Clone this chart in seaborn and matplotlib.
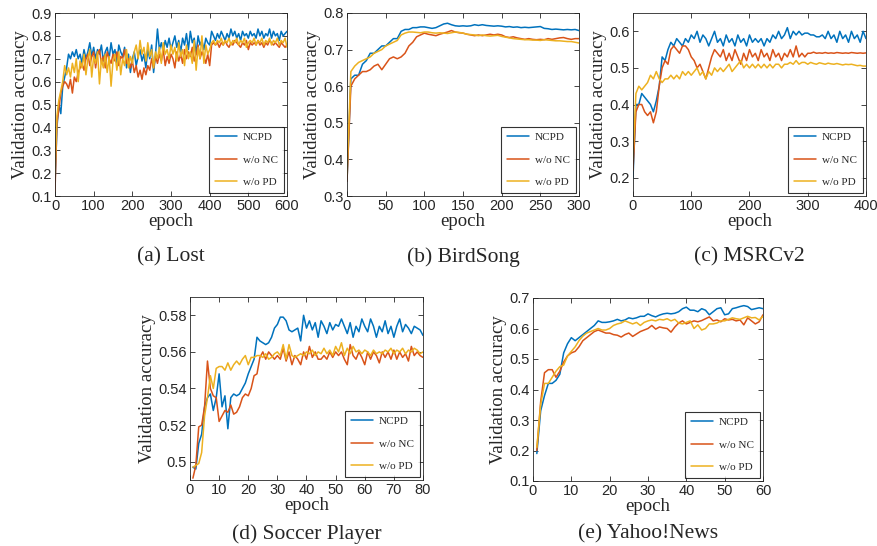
import numpy as np
import pandas as pd
import matplotlib
matplotlib.use("Agg")
import matplotlib.pyplot as plt
import seaborn as sns
from matplotlib.ticker import FormatStrFormatter, MultipleLocator

sns.set_style("ticks")

SERIES = ["NCPD", "w/o NC", "w/o PD"]
COLORS = ["#0072BD", "#D95319", "#EDB120"]

# ---------------- (a) Lost ----------------
lost_x = list(range(0, 601, 5))
lost_ncpd = [0.15, 0.40, 0.50, 0.46, 0.58, 0.62, 0.66, 0.72, 0.70, 0.73, 0.71, 0.74, 0.70, 0.72, 0.68, 0.74, 0.70, 0.73, 0.77, 0.71, 0.75,
             0.70, 0.74, 0.72, 0.76, 0.69, 0.73, 0.75, 0.70, 0.77, 0.72, 0.74, 0.68, 0.76, 0.73, 0.71, 0.75, 0.66, 0.72, 0.64, 0.70,
             0.73, 0.67, 0.71, 0.74, 0.69, 0.72, 0.66, 0.74, 0.70, 0.76, 0.64, 0.72, 0.83, 0.74, 0.77, 0.73, 0.78, 0.75, 0.79, 0.74,
             0.77, 0.80, 0.75, 0.78, 0.73, 0.79, 0.76, 0.81, 0.74, 0.82, 0.77, 0.79, 0.72, 0.80, 0.76, 0.78, 0.74, 0.79, 0.77, 0.76,
             0.82, 0.80, 0.78, 0.81, 0.79, 0.82, 0.80, 0.78, 0.81, 0.79, 0.83, 0.80, 0.82, 0.79, 0.81, 0.78, 0.82, 0.80, 0.81, 0.79,
             0.82, 0.80, 0.81, 0.79, 0.83, 0.80, 0.82, 0.79, 0.81, 0.80, 0.83, 0.79, 0.82, 0.80, 0.81, 0.78, 0.82, 0.80, 0.81, 0.82]
lost_wonc = [0.12, 0.42, 0.48, 0.55, 0.58, 0.60, 0.59, 0.57, 0.61, 0.55, 0.62, 0.60, 0.64, 0.66, 0.68, 0.65, 0.70, 0.72, 0.67, 0.71, 0.73,
             0.66, 0.72, 0.74, 0.68, 0.71, 0.66, 0.73, 0.70, 0.68, 0.72, 0.69, 0.73, 0.67, 0.71, 0.70, 0.74, 0.68, 0.70, 0.66, 0.69,
             0.64, 0.67, 0.62, 0.65, 0.61, 0.66, 0.63, 0.67, 0.65, 0.70, 0.66, 0.71, 0.68, 0.72, 0.69, 0.74, 0.67, 0.71, 0.68, 0.72,
             0.70, 0.66, 0.73, 0.69, 0.72, 0.68, 0.74, 0.70, 0.73, 0.71, 0.75, 0.69, 0.72, 0.76, 0.70, 0.73, 0.71, 0.68, 0.72, 0.67,
             0.76, 0.77, 0.76, 0.77, 0.75, 0.77, 0.76, 0.78, 0.76, 0.75, 0.77, 0.76, 0.78, 0.77, 0.76, 0.75, 0.77, 0.76, 0.78, 0.74,
             0.77, 0.76, 0.77, 0.76, 0.78, 0.76, 0.77, 0.75, 0.77, 0.76, 0.78, 0.77, 0.76, 0.77, 0.76, 0.75, 0.77, 0.76, 0.75, 0.76]
lost_wopd = [0.20, 0.45, 0.52, 0.56, 0.60, 0.67, 0.63, 0.66, 0.62, 0.68, 0.64, 0.70, 0.60, 0.69, 0.66, 0.72, 0.63, 0.70, 0.74, 0.62, 0.71,
             0.68, 0.73, 0.59, 0.70, 0.66, 0.72, 0.64, 0.71, 0.58, 0.69, 0.72, 0.65, 0.73, 0.63, 0.70, 0.67, 0.74, 0.66, 0.71, 0.68,
             0.73, 0.76, 0.70, 0.78, 0.72, 0.75, 0.69, 0.77, 0.71, 0.74, 0.66, 0.73, 0.70, 0.75, 0.68, 0.77, 0.72, 0.74, 0.70, 0.76,
             0.72, 0.75, 0.69, 0.77, 0.71, 0.74, 0.67, 0.76, 0.70, 0.73, 0.68, 0.78, 0.65, 0.75, 0.70, 0.80, 0.68, 0.76, 0.72, 0.74,
             0.77, 0.78, 0.76, 0.78, 0.77, 0.79, 0.76, 0.78, 0.77, 0.79, 0.76, 0.78, 0.77, 0.79, 0.76, 0.78, 0.77, 0.79, 0.75, 0.77,
             0.78, 0.77, 0.79, 0.76, 0.78, 0.77, 0.79, 0.76, 0.78, 0.77, 0.79, 0.76, 0.78, 0.77, 0.79, 0.76, 0.78, 0.77, 0.79, 0.75]

# ---------------- (b) BirdSong ----------------
bird_x = list(range(0, 301, 5))
bird_ncpd = [0.34, 0.62, 0.63, 0.63, 0.66, 0.67, 0.69, 0.69, 0.70, 0.71, 0.71, 0.72, 0.73, 0.73, 0.75, 0.755, 0.755, 0.76, 0.76, 0.762, 0.762,
             0.76, 0.758, 0.76, 0.765, 0.77, 0.772, 0.768, 0.765, 0.764, 0.765, 0.764, 0.765, 0.768, 0.766, 0.768, 0.766, 0.765, 0.764, 0.765, 0.764,
             0.762, 0.763, 0.761, 0.762, 0.760, 0.761, 0.760, 0.761, 0.762, 0.763, 0.758, 0.757, 0.755, 0.756, 0.755, 0.754, 0.755, 0.754, 0.755, 0.752]
bird_wonc = [0.34, 0.60, 0.62, 0.63, 0.64, 0.64, 0.645, 0.655, 0.66, 0.645, 0.66, 0.675, 0.68, 0.675, 0.68, 0.69, 0.71, 0.72, 0.735, 0.74, 0.745,
             0.742, 0.74, 0.738, 0.742, 0.745, 0.748, 0.752, 0.748, 0.746, 0.745, 0.742, 0.74, 0.738, 0.74, 0.738, 0.74, 0.742, 0.74, 0.742, 0.74,
             0.735, 0.733, 0.735, 0.732, 0.73, 0.728, 0.73, 0.728, 0.727, 0.728, 0.727, 0.73, 0.728, 0.73, 0.732, 0.733, 0.73, 0.728, 0.73, 0.73]
bird_wopd = [0.36, 0.64, 0.655, 0.665, 0.67, 0.675, 0.68, 0.69, 0.695, 0.70, 0.71, 0.715, 0.72, 0.725, 0.74, 0.745, 0.748, 0.748, 0.747, 0.746, 0.748,
             0.748, 0.746, 0.745, 0.746, 0.745, 0.744, 0.746, 0.748, 0.747, 0.745, 0.742, 0.741, 0.74, 0.738, 0.74, 0.738, 0.737, 0.738, 0.739, 0.736,
             0.734, 0.732, 0.73, 0.729, 0.728, 0.727, 0.727, 0.726, 0.726, 0.725, 0.727, 0.726, 0.725, 0.724, 0.724, 0.723, 0.722, 0.722, 0.72, 0.718]

# ---------------- (c) MSRCv2 ----------------
msrc_x = list(range(0, 401, 5))
msrc_ncpd = [0.20, 0.40, 0.40, 0.43, 0.42, 0.41, 0.40, 0.38, 0.41, 0.45, 0.53, 0.52, 0.55, 0.57, 0.56, 0.58, 0.57, 0.56, 0.58, 0.57, 0.59,
             0.58, 0.60, 0.57, 0.59, 0.58, 0.56, 0.58, 0.60, 0.57, 0.58, 0.56, 0.59, 0.57, 0.58, 0.56, 0.59, 0.57, 0.58, 0.56, 0.59,
             0.57, 0.58, 0.57, 0.58, 0.56, 0.58, 0.57, 0.59, 0.58, 0.60, 0.58, 0.59, 0.61, 0.58, 0.60, 0.59, 0.60, 0.59, 0.595, 0.595,
             0.59, 0.59, 0.585, 0.585, 0.59, 0.58, 0.60, 0.58, 0.59, 0.57, 0.60, 0.58, 0.59, 0.57, 0.60, 0.58, 0.59, 0.57, 0.60, 0.58]
msrc_wonc = [0.22, 0.38, 0.40, 0.40, 0.38, 0.37, 0.38, 0.35, 0.38, 0.45, 0.50, 0.52, 0.51, 0.55, 0.56, 0.55, 0.54, 0.56, 0.56, 0.55, 0.53,
             0.52, 0.50, 0.51, 0.49, 0.47, 0.50, 0.53, 0.55, 0.54, 0.53, 0.55, 0.52, 0.54, 0.52, 0.55, 0.53, 0.51, 0.54, 0.52, 0.55,
             0.53, 0.54, 0.52, 0.55, 0.53, 0.54, 0.52, 0.55, 0.53, 0.54, 0.52, 0.54, 0.53, 0.55, 0.53, 0.56, 0.53, 0.54, 0.53, 0.54,
             0.54, 0.543, 0.54, 0.541, 0.54, 0.542, 0.54, 0.541, 0.54, 0.542, 0.541, 0.54, 0.541, 0.54, 0.542, 0.541, 0.54, 0.541, 0.54, 0.541]
msrc_wopd = [0.25, 0.43, 0.45, 0.44, 0.45, 0.46, 0.48, 0.47, 0.49, 0.47, 0.46, 0.47, 0.47, 0.48, 0.47, 0.48, 0.47, 0.49, 0.48, 0.49, 0.48,
             0.49, 0.50, 0.48, 0.49, 0.47, 0.49, 0.48, 0.50, 0.49, 0.50, 0.49, 0.50, 0.51, 0.49, 0.50, 0.51, 0.52, 0.50, 0.51, 0.50,
             0.51, 0.50, 0.51, 0.50, 0.51, 0.50, 0.51, 0.50, 0.51, 0.51, 0.50, 0.51, 0.51, 0.515, 0.51, 0.52, 0.51, 0.515, 0.515, 0.51,
             0.515, 0.512, 0.51, 0.514, 0.512, 0.51, 0.513, 0.511, 0.51, 0.512, 0.51, 0.508, 0.51, 0.509, 0.51, 0.508, 0.506, 0.507, 0.505, 0.505]

# ---------------- (d) Soccer Player ----------------
soc_x = list(range(1, 81))
soc_ncpd = [0.497, 0.496, 0.510, 0.515, 0.530, 0.535, 0.537, 0.528, 0.535, 0.548, 0.530, 0.536, 0.518, 0.535, 0.537, 0.536, 0.537, 0.540, 0.543, 0.548,
            0.552, 0.556, 0.568, 0.566, 0.565, 0.564, 0.565, 0.568, 0.573, 0.575, 0.579, 0.579, 0.577, 0.572, 0.571, 0.572, 0.573, 0.566, 0.580, 0.573,
            0.577, 0.572, 0.576, 0.568, 0.577, 0.574, 0.570, 0.576, 0.572, 0.575, 0.574, 0.578, 0.574, 0.570, 0.576, 0.568, 0.574, 0.571, 0.578, 0.574,
            0.571, 0.578, 0.574, 0.568, 0.574, 0.571, 0.577, 0.570, 0.574, 0.568, 0.574, 0.578, 0.571, 0.575, 0.573, 0.570, 0.574, 0.573, 0.572, 0.569]
soc_wonc = [0.491, 0.498, 0.519, 0.520, 0.530, 0.555, 0.540, 0.536, 0.535, 0.522, 0.525, 0.528, 0.527, 0.531, 0.526, 0.527, 0.530, 0.535, 0.537, 0.536,
            0.540, 0.547, 0.548, 0.557, 0.560, 0.556, 0.560, 0.558, 0.556, 0.558, 0.556, 0.562, 0.555, 0.560, 0.553, 0.558, 0.556, 0.553, 0.560, 0.556,
            0.563, 0.557, 0.560, 0.556, 0.556, 0.558, 0.556, 0.560, 0.557, 0.560, 0.558, 0.560, 0.556, 0.553, 0.564, 0.558, 0.556, 0.560, 0.557, 0.553,
            0.560, 0.556, 0.560, 0.558, 0.554, 0.560, 0.557, 0.560, 0.556, 0.561, 0.556, 0.560, 0.557, 0.559, 0.555, 0.563, 0.558, 0.560, 0.558, 0.557]
soc_wopd = [0.497, 0.498, 0.499, 0.505, 0.525, 0.535, 0.547, 0.540, 0.551, 0.552, 0.552, 0.550, 0.554, 0.550, 0.553, 0.555, 0.553, 0.556, 0.558, 0.553,
            0.557, 0.557, 0.558, 0.558, 0.557, 0.559, 0.556, 0.557, 0.559, 0.560, 0.558, 0.564, 0.556, 0.564, 0.558, 0.557, 0.558, 0.559, 0.558, 0.560,
            0.559, 0.561, 0.558, 0.560, 0.559, 0.562, 0.559, 0.561, 0.558, 0.563, 0.560, 0.565, 0.558, 0.562, 0.559, 0.563, 0.560, 0.561, 0.559, 0.561,
            0.560, 0.558, 0.561, 0.559, 0.560, 0.559, 0.561, 0.560, 0.562, 0.559, 0.561, 0.560, 0.562, 0.559, 0.561, 0.560, 0.562, 0.561, 0.559, 0.560]

# ---------------- (e) Yahoo!News ----------------
yah_x = list(range(1, 61))
yah_ncpd = [0.19, 0.33, 0.38, 0.42, 0.42, 0.43, 0.45, 0.52, 0.55, 0.57, 0.56, 0.57, 0.58, 0.59, 0.60, 0.61, 0.625, 0.62, 0.62, 0.622,
            0.625, 0.63, 0.625, 0.628, 0.635, 0.632, 0.635, 0.64, 0.64, 0.648, 0.642, 0.638, 0.644, 0.648, 0.65, 0.648, 0.65, 0.655, 0.665, 0.67,
            0.66, 0.66, 0.655, 0.665, 0.66, 0.645, 0.655, 0.665, 0.668, 0.645, 0.648, 0.665, 0.668, 0.672, 0.675, 0.672, 0.662, 0.665, 0.668, 0.665]
yah_wonc = [0.20, 0.36, 0.455, 0.465, 0.465, 0.44, 0.46, 0.49, 0.51, 0.52, 0.525, 0.54, 0.56, 0.57, 0.58, 0.59, 0.595, 0.59, 0.585, 0.585,
            0.58, 0.578, 0.572, 0.58, 0.585, 0.574, 0.582, 0.59, 0.595, 0.60, 0.61, 0.598, 0.605, 0.602, 0.60, 0.588, 0.605, 0.618, 0.625, 0.615,
            0.62, 0.625, 0.622, 0.626, 0.632, 0.638, 0.625, 0.628, 0.622, 0.632, 0.628, 0.63, 0.625, 0.628, 0.612, 0.635, 0.625, 0.615, 0.622, 0.645]
yah_wopd = [0.21, 0.35, 0.42, 0.42, 0.44, 0.46, 0.475, 0.48, 0.51, 0.525, 0.54, 0.56, 0.575, 0.585, 0.59, 0.595, 0.60, 0.595, 0.595, 0.60,
            0.61, 0.615, 0.618, 0.625, 0.62, 0.615, 0.62, 0.61, 0.62, 0.625, 0.628, 0.625, 0.63, 0.628, 0.632, 0.625, 0.63, 0.618, 0.615, 0.62,
            0.625, 0.60, 0.612, 0.595, 0.60, 0.615, 0.615, 0.618, 0.625, 0.625, 0.63, 0.635, 0.632, 0.63, 0.635, 0.64, 0.635, 0.636, 0.628, 0.64]

CAPTIONS = ["(a) Lost", "(b) BirdSong", "(c) MSRCv2", "(d) Soccer Player", "(e) Yahoo!News"]

W, H = 878, 546
fig = plt.figure(figsize=(W / 100, H / 100), dpi=100)

def px_axes(l, t, r, b):
    return fig.add_axes([l / W, 1 - b / H, (r - l) / W, (b - t) / H])

SERIF = "Liberation Serif"
SANS = "Liberation Sans"
TICKC = "#262626"

panels = [
    dict(box=(55, 13, 287, 196), x=lost_x, ys=[lost_ncpd, lost_wonc, lost_wopd],
         xlim=(0, 600), ylim=(0.1, 0.9), xstep=100, ystep=0.1, fmt="%.1f", cap_y=257),
    dict(box=(347, 13, 579, 196), x=bird_x, ys=[bird_ncpd, bird_wonc, bird_wopd],
         xlim=(0, 300), ylim=(0.3, 0.8), xstep=50, ystep=0.1, fmt="%.1f", cap_y=257),
    dict(box=(633, 13, 866, 196), x=msrc_x, ys=[msrc_ncpd, msrc_wonc, msrc_wopd],
         xlim=(0, 400), ylim=(0.15, 0.65), xstep=100, ystep=0.1, fmt="%.1f", cap_y=257),
    dict(box=(190, 297, 423, 480), x=soc_x, ys=[soc_ncpd, soc_wonc, soc_wopd],
         xlim=(0, 80), ylim=(0.49, 0.59), xstep=10, ystep=0.02, fmt="%g", cap_y=534),
    dict(box=(533, 298, 763, 481), x=yah_x, ys=[yah_ncpd, yah_wonc, yah_wopd],
         xlim=(0, 60), ylim=(0.1, 0.7), xstep=10, ystep=0.1, fmt="%.1f", cap_y=534),
]

for p, cap in zip(panels, CAPTIONS):
    ax = px_axes(*p["box"])
    for name, col, y in zip(SERIES, COLORS, p["ys"]):
        sns.lineplot(x=p["x"], y=y, ax=ax, color=col, label=name, linewidth=1.1)
    ax.set_xlim(*p["xlim"])
    ax.set_ylim(*p["ylim"])
    ax.xaxis.set_major_locator(MultipleLocator(p["xstep"]))
    ax.yaxis.set_major_locator(MultipleLocator(p["ystep"]))
    ax.yaxis.set_major_formatter(FormatStrFormatter(p["fmt"]))
    ax.xaxis.set_major_formatter(FormatStrFormatter("%d"))
    ax.tick_params(direction="in", length=3.5, width=0.6, top=True, right=True,
                   labelsize=10.5, colors=TICKC, pad=2)
    for lab in ax.get_xticklabels() + ax.get_yticklabels():
        lab.set_fontfamily(SANS)
    for s in ax.spines.values():
        s.set_visible(True)
        s.set_color(TICKC)
        s.set_linewidth(0.6)
    ax.set_xlabel("epoch", fontfamily=SERIF, fontsize=13.5, labelpad=0)
    ax.set_ylabel("Validation accuracy", fontfamily=SERIF, fontsize=13.5, labelpad=2)
    leg = ax.legend(loc="lower right", prop={"family": SERIF, "size": 8},
                    frameon=True, fancybox=False, edgecolor="black",
                    labelspacing=1.15, handlelength=2.0, borderaxespad=0.3,
                    borderpad=0.5, handletextpad=0.55)
    leg.get_frame().set_linewidth(0.8)
    l, t, r, b = p["box"]
    fig.text(((l + r) / 2) / W, 1 - p["cap_y"] / H, cap, ha="center", va="center",
             fontfamily=SERIF, fontsize=15.5)

fig.savefig("out.png", dpi=100)
